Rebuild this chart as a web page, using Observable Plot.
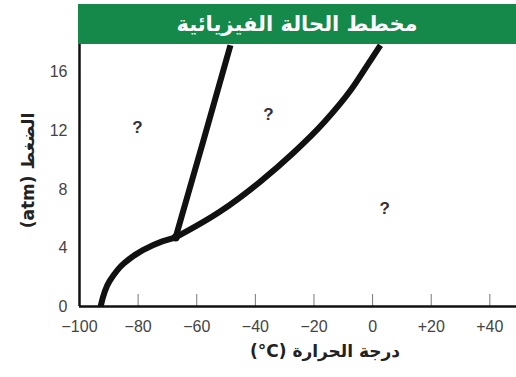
<!DOCTYPE html>
<html>
<head>
<meta charset="utf-8">
<script src="https://cdn.jsdelivr.net/npm/d3@7"></script>
<script src="https://cdn.jsdelivr.net/npm/@observablehq/plot@0.6"></script>
<style>
  html, body { margin: 0; padding: 0; background: #fff; }
  #title {
    margin: 4px 0 0 78px; width: 438px; height: 40px; background: #14894a;
    color: #fff; font-family: "DejaVu Sans", sans-serif; font-weight: bold; font-size: 21px;
    display: flex; align-items: center; justify-content: center; direction: rtl;
  }
</style>
</head>
<body>
<div id="title">مخطط الحالة الفيزيائية</div>
<div id="chart"></div>
<script>
// Sublimation curve (solid–gas)
const subT = [-92.8, -89.6, -84.8, -78.5, -72.4, -67.2];
const subP = [0, 1.78, 2.96, 3.83, 4.40, 4.72];
// Melting curve (solid–liquid)
const meltT = [-67.2, -57.7, -48.5];
const meltP = [4.72, 11.35, 17.85];
// Vaporization curve (liquid–gas)
const vapT = [-67.2, -51.9, -38.2, -27.0, -16.7, -7.5, -0.7, 2.7];
const vapP = [4.72, 6.50, 8.55, 10.50, 12.55, 14.77, 16.82, 17.85];
// Triple point
const tripleT = [-67.2];
const tripleP = [4.72];
// Region question marks
const qT = [-80.2, -35.5, 4.1];
const qP = [12.2, 13.1, 6.7];
// Ticks
const xTicks = [-100, -80, -60, -40, -20, 0, 20, 40];
const yTicks = [0, 4, 8, 12, 16];
const xLabel = "درجة الحرارة (\u200E°C)";
const yLabel = "الضغط (atm)";

const toPts = (xs, ys) => xs.map((x, i) => ({x, y: ys[i]}));
const fmtX = d => d > 0 ? "+" + d : d < 0 ? "\u2212" + Math.abs(d) : "0";
const rtl = s => "\u202B" + s + "\u202C";

const lineStyle = {x: "x", y: "y", stroke: "#111", strokeWidth: 6, strokeLinecap: "butt"};

const plot = Plot.plot({
  width: 516,
  height: 333,
  marginTop: 0,
  marginBottom: 71,
  marginLeft: 79,
  marginRight: 0,
  style: {fontFamily: "'Liberation Sans', Arial, sans-serif", background: "#fff"},
  x: {domain: [-100, 49.1]},
  y: {domain: [0, 17.9]},
  marks: [
    Plot.axisX(xTicks, {tickSize: -12, tickFormat: () => "", stroke: "#777", label: null}),
    Plot.axisX(xTicks, {tickSize: 0, tickPadding: 14, tickFormat: fmtX, fontSize: 16, fill: "#444", label: null}),
    Plot.axisY(yTicks, {tickSize: 0, tickPadding: 12, fontSize: 16, fill: "#444", label: null}),
    Plot.line(toPts(subT, subP), {...lineStyle, curve: "monotone-y"}),
    Plot.line(toPts(meltT, meltP), {...lineStyle, curve: "monotone-x"}),
    Plot.line(toPts(vapT, vapP), {...lineStyle, curve: "monotone-x"}),
    Plot.dot(toPts(tripleT, tripleP), {x: "x", y: "y", r: 4, fill: "#111"}),
    Plot.text(toPts(qT, qP), {x: "x", y: "y", text: () => "?", fontSize: 17, fontWeight: "bold", fill: "#333"}),
    Plot.ruleX([-100], {stroke: "#111", strokeWidth: 2.5}),
    Plot.ruleY([0], {stroke: "#111", strokeWidth: 2.5}),
    Plot.text([rtl(xLabel)], {frameAnchor: "bottom", dx: 27, dy: 50, fontSize: 17, fontWeight: "bold", fill: "#222", fontFamily: "'DejaVu Sans', sans-serif"}),
    Plot.text([rtl(yLabel)], {frameAnchor: "left", textAnchor: "middle", rotate: -90, dx: -51, dy: -5, fontSize: 17, fontWeight: "bold", fill: "#222", fontFamily: "'DejaVu Sans', sans-serif"})
  ]
});
document.getElementById("chart").appendChild(plot);
</script>
</body>
</html>
